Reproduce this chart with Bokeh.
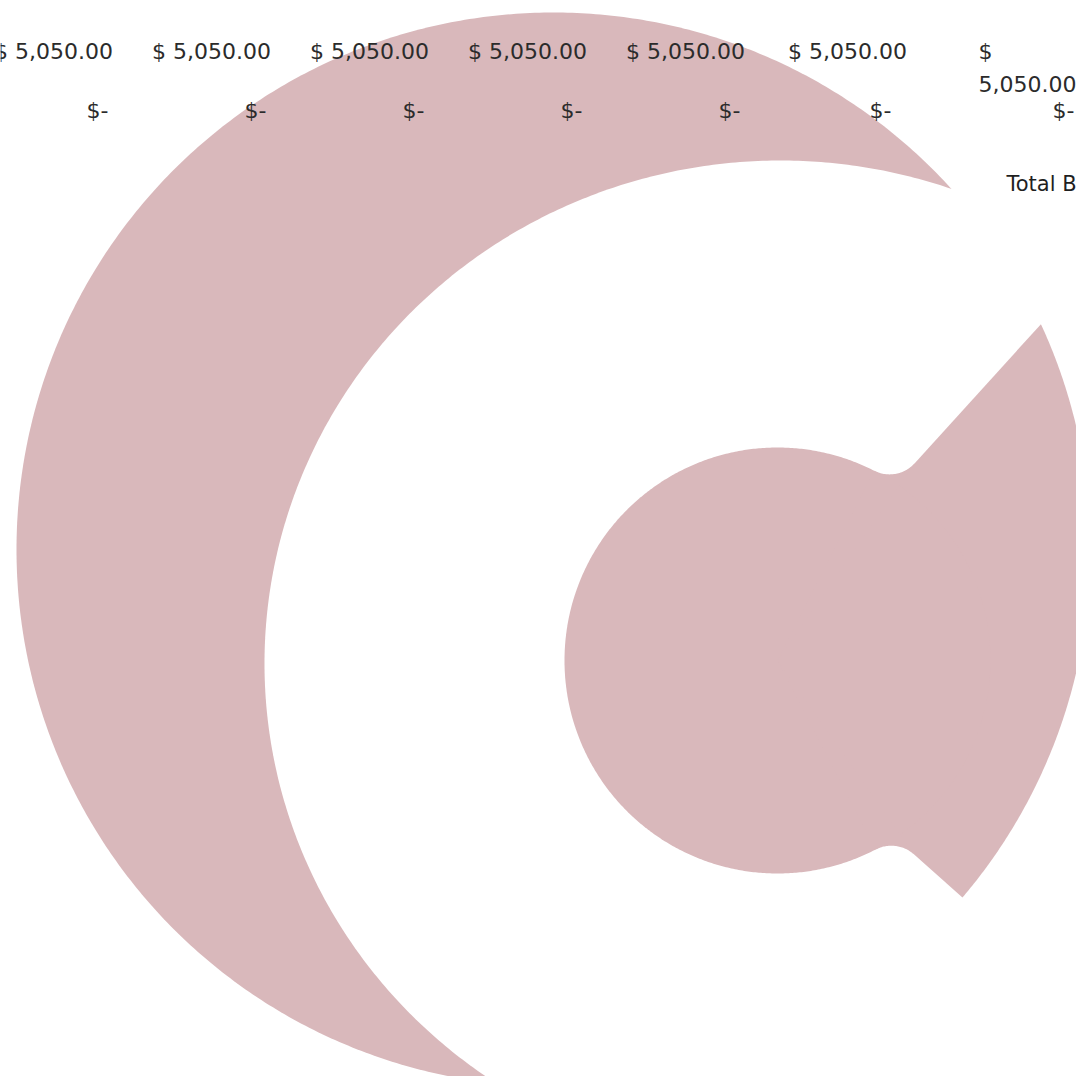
import numpy as np
from bokeh.plotting import figure
from bokeh.models import Range1d, ColumnDataSource
from bokeh.embed import file_html
from bokeh.resources import INLINE
from bokeh.core.properties import value

# ---------------- data ----------------
categories = ["1", "2", "3", "4", "5", "6", "7"]
total_budget = [5050, 5050, 5050, 5050, 5050, 5050, 5050]
total_spent = [0, 0, 0, 0, 0, 0, 0]
series_names = ["Total Budget"]


def fmt(v):
    return "$-" if v == 0 else f"$ {v:,.2f}"


# ---------------- styling / layout constants ----------------
PINK = "#D9B8BB"
FONT = value("DejaVu Sans")
TEXT_COLOR = "#2b2b2b"
top_nudge = [0, 0, 0, 0, 0, 4, 0]
bot_nudge = [0, 0, 0, 0, 0, -7, 18]
wrap_last = True

W = H = 1076
p = figure(width=W, height=H, x_range=Range1d(0, 1076), y_range=Range1d(1076, 0),
           output_backend="svg", toolbar_location=None, min_border=0,
           x_axis_location=None, y_axis_location=None)
p.grid.visible = False
p.outline_line_color = None
p.background_fill_color = "white"
p.border_fill_color = "white"
p.extra_x_ranges = {"cat": Range1d(-0.4747, 6.3354)}

# ---------------- decorative background picture (logo) ----------------
OC, OR = np.array([553.0, 549.0]), 537.0            # outer circle
IC, IA, IB = np.array([780.0, 663.0]), 516.0, 503.0  # inner ellipse (cut-out)
DC, DR = np.array([777.0, 660.0]), 213.0            # inner disk
UP = (np.array([953.0, 420.0]), np.array([1041.0, 323.0]))
LO = (np.array([917.0, 857.0]), np.array([963.0, 898.0]))
FR = 34.0

th = np.linspace(0, 2 * np.pi, 721)
p.patch(OC[0] + OR * np.cos(th), OC[1] + OR * np.sin(th), fill_color=PINK, line_color=None)
p.patch(IC[0] + IA * np.cos(th), IC[1] + IB * np.sin(th), fill_color="white", line_color=None)


def line_intersect(a1, a2, b1, b2):
    d1 = a2 - a1
    d2 = b2 - b1
    m = np.array([d1, -d2]).T
    t = np.linalg.solve(m, b1 - a1)
    return a1 + t[0] * d1


def circle_hit(P, d, C, R):
    Q = P - C
    b = Q @ d
    c = Q @ Q - R * R
    t = -b + np.sqrt(b * b - c)
    return P + t * d


apex = line_intersect(UP[0], UP[1], LO[0], LO[1])
du = (UP[1] - apex) / np.linalg.norm(UP[1] - apex)
dl = (LO[1] - apex) / np.linalg.norm(LO[1] - apex)
U = circle_hit(apex, du, OC, OR)
L = circle_hit(apex, dl, OC, OR)
au = np.arctan2(U[1] - OC[1], U[0] - OC[0])
al = np.arctan2(L[1] - OC[1], L[0] - OC[0])
arc = np.linspace(au, al, 200)
wx = [apex[0]] + list(OC[0] + OR * np.cos(arc))
wy = [apex[1]] + list(OC[1] + OR * np.sin(arc))
p.patch(wx, wy, fill_color=PINK, line_color=None)
p.patch(DC[0] + DR * np.cos(th), DC[1] + DR * np.sin(th), fill_color=PINK, line_color=None)


def fillet(P, d, C, R, rf):
    n = np.array([-d[1], d[0]])
    if n @ (C - P) > 0:
        n = -n
    Q = P + rf * n - C
    b = Q @ d
    c = Q @ Q - (R + rf) ** 2
    t = -b + np.sqrt(b * b - c)
    F = P + t * d + rf * n
    T1 = P + t * d
    T2 = C + R * (F - C) / np.linalg.norm(F - C)
    a1 = np.arctan2(T1[1] - F[1], T1[0] - F[0])
    a2 = np.arctan2(T2[1] - F[1], T2[0] - F[0])
    delta = (a2 - a1 + np.pi) % (2 * np.pi) - np.pi
    s = a1 + np.linspace(0, 1, 40) * delta
    xs = [C[0], T1[0]] + list(F[0] + rf * np.cos(s)) + [T2[0]]
    ys = [C[1], T1[1]] + list(F[1] + rf * np.sin(s)) + [T2[1]]
    return xs, ys


for d in (du, dl):
    fx, fy = fillet(apex, d, DC, DR, FR)
    p.patch(fx, fy, fill_color=PINK, line_color=None)

# ---------------- data labels ----------------
idx = list(range(len(categories)))
n_plain = len(categories) - 1 if wrap_last else len(categories)
text_kw = dict(text_font=FONT, text_font_size="22px", text_color=TEXT_COLOR)

top_src = ColumnDataSource(dict(
    x=idx[:n_plain], y=[51] * n_plain,
    label=[fmt(v) for v in total_budget[:n_plain]],
    off=[-22 + o for o in top_nudge[:n_plain]]))
p.text(x="x", y="y", text="label", x_offset="off", source=top_src, x_range_name="cat",
       text_align="center", text_baseline="middle", **text_kw)

if wrap_last:
    # the last label wraps onto two lines ("$" / "5,050.00")
    parts = [fmt(v).split(" ", 1) for v in total_budget[n_plain:]]
    wrap_src = ColumnDataSource(dict(
        x=idx[n_plain:] * 2, y=[51] * len(parts) + [83] * len(parts),
        label=[q[0] for q in parts] + [q[1] for q in parts]))
    p.text(x="x", y="y", text="label", x_offset=-45, source=wrap_src, x_range_name="cat",
           text_align="left", text_baseline="middle", **text_kw)

bot_src = ColumnDataSource(dict(
    x=idx, y=[110] * len(idx),
    label=[fmt(v) for v in total_spent],
    off=[22 + o for o in bot_nudge]))
p.text(x="x", y="y", text="label", x_offset="off", source=bot_src, x_range_name="cat",
       text_align="center", text_baseline="middle", **text_kw)

# legend entry (runs off the right edge, as in the original)
leg_src = ColumnDataSource(dict(x=[1006], y=[183], label=series_names))
p.text(x="x", y="y", text="label", source=leg_src,
       text_font=FONT, text_font_size="21px", text_color="#1f1f1f",
       text_align="left", text_baseline="middle")

open("out.html", "w").write(file_html(p, INLINE))
